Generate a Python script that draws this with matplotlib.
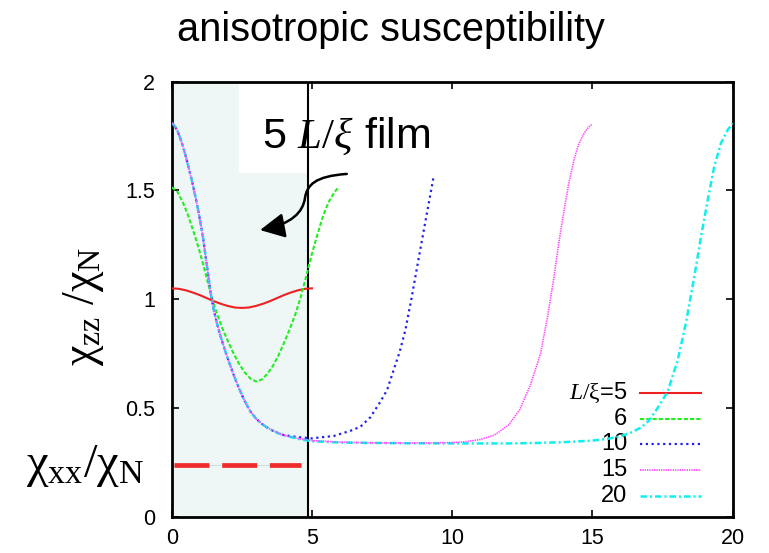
import matplotlib
matplotlib.use("Agg")
import matplotlib.pyplot as plt
from matplotlib.patches import Rectangle, FancyArrowPatch
from matplotlib.path import Path

plt.rcParams['font.family'] = ['Liberation Sans', 'DejaVu Sans']
plt.rcParams['mathtext.fontset'] = 'custom'
plt.rcParams['mathtext.rm'] = 'Liberation Serif'
plt.rcParams['mathtext.it'] = 'Liberation Serif:italic'
plt.rcParams['mathtext.bf'] = 'Liberation Serif:bold'

# chi_zz / chi_N across the film, one curve per thickness L/xi
# common decay from the surface (x = 0), shared by the thick films
surf_x = [0.0, 0.1, 0.2, 0.3, 0.4, 0.5, 0.6, 0.7, 0.8, 0.9, 1.0, 1.1, 1.2, 1.3,
          1.4, 1.5, 1.6, 1.7, 1.8, 1.9, 2.0, 2.2, 2.4, 2.6, 2.8, 3.0, 3.2, 3.4,
          3.6, 3.8, 4.0]
surf_y = [1.810, 1.798, 1.775, 1.742, 1.703, 1.657, 1.607, 1.555, 1.498, 1.437,
          1.370, 1.297, 1.205, 1.112, 1.020, 0.950, 0.895, 0.848, 0.805, 0.765,
          0.727, 0.655, 0.590, 0.532, 0.485, 0.452, 0.428, 0.410, 0.396, 0.384,
          0.375]

x5 = [0.0, 0.25, 0.5, 0.75, 1.0, 1.25, 1.5, 1.75, 2.0, 2.25, 2.5, 2.75, 3.0,
      3.25, 3.5, 3.75, 4.0, 4.25, 4.5, 4.75, 5.0]
y5 = [1.050, 1.048, 1.041, 1.031, 1.019, 1.005, 0.991, 0.979, 0.969, 0.962,
      0.960, 0.962, 0.969, 0.979, 0.991, 1.005, 1.019, 1.031, 1.041, 1.048, 1.050]

x6 = [0.0, 0.2, 0.4, 0.6, 0.8, 1.0, 1.2, 1.4, 1.6, 1.8, 2.0, 2.2, 2.4, 2.6,
      2.8, 3.0, 3.2, 3.4, 3.6, 3.8, 4.0, 4.2, 4.4, 4.6, 4.8, 5.0, 5.2, 5.4,
      5.6, 5.8, 5.92]
y6 = [1.515, 1.495, 1.445, 1.380, 1.302, 1.218, 1.122, 1.020, 0.938, 0.868,
      0.808, 0.752, 0.703, 0.664, 0.636, 0.622, 0.630, 0.655, 0.692, 0.740,
      0.798, 0.860, 0.928, 1.010, 1.108, 1.210, 1.300, 1.385, 1.448, 1.492, 1.510]

x10 = surf_x + [4.5, 5.0, 5.3, 5.77, 6.37, 6.73, 7.08, 7.44, 7.68, 7.91, 8.12,
                8.33, 8.55, 8.75, 9.0, 9.34]
y10 = surf_y + [0.366, 0.360, 0.365, 0.371, 0.395, 0.414, 0.457, 0.529, 0.583,
                0.674, 0.755, 0.858, 1.005, 1.149, 1.326, 1.566]

x15 = surf_x + [4.5, 5.0, 6.0, 7.0, 8.0, 9.0, 10.0, 10.5, 11.0, 11.5, 12.0,
                12.4, 12.8, 13.15, 13.4, 13.63, 13.8, 13.99, 14.15, 14.34, 14.5,
                14.7, 14.85, 15.0]
y15 = surf_y + [0.360, 0.350, 0.343, 0.340, 0.339, 0.339, 0.341, 0.345, 0.355,
                0.375, 0.420, 0.490, 0.610, 0.751, 0.920, 1.103, 1.260, 1.410,
                1.530, 1.640, 1.710, 1.763, 1.790, 1.806]

x20 = surf_x + [4.5, 5.0, 6.0, 8.0, 10.0, 12.0, 13.0, 14.0, 15.0, 15.54, 16.0,
                16.4, 16.73, 17.0, 17.3, 17.68, 18.04, 18.33, 18.63, 18.87,
                19.11, 19.34, 19.58, 19.82, 20.0]
y20 = surf_y + [0.358, 0.347, 0.341, 0.338, 0.337, 0.337, 0.339, 0.343, 0.350,
                0.358, 0.370, 0.388, 0.410, 0.440, 0.495, 0.575, 0.720, 0.889,
                1.103, 1.287, 1.456, 1.609, 1.717, 1.778, 1.809]

# in-plane susceptibility chi_xx / chi_N of the 5 L/xi film
xx_x = [0.08, 4.6]
xx_y = [0.238, 0.238]

film_edge = 4.86
labels = ['$\\mathit{L}/\\mathrm{ξ}$=5', '6', '10', '15', '20']

fig = plt.figure(figsize=(7.69, 5.53), dpi=100)
ax = fig.add_axes([0.2233, 0.0656, 0.7295, 0.7866])

ax.axvspan(0, film_edge, color='#eef7f6', zorder=0)
ax.axvline(film_edge, color='black', lw=1.5, zorder=3)

ax.plot(xx_x, xx_y, color='#c8e2e4', lw=0.8, zorder=2)
ax.plot(xx_x, xx_y, color='#ee2a2a', lw=3.4, dashes=(7.4, 2.7),
        solid_capstyle='butt', dash_capstyle='butt', zorder=2)

styles = [
    dict(color='#ee2020', lw=1.5, ls='-'),
    dict(color='#22ee22', lw=1.5, dashes=(2.0, 1.0)),
    dict(color='#2222ee', lw=1.6, dashes=(1.0, 1.6)),
    dict(color='#ff44ff', lw=1.2, dashes=(0.8, 0.6)),
    dict(color='#11eeee', lw=1.8, dashes=(2.6, 1.2, 0.8, 1.2)),
]
series = [(x5, y5), (x6, y6), (x10, y10), (x15, y15), (x20, y20)]
order = [1, 2, 3, 5, 4]
for (xs, ys), st, z in zip(series, styles, order):
    ax.plot(xs, ys, zorder=4 + z * 0.1, **st)

# legend drawn gnuplot style: label right-aligned, sample to its right
rows = [0.2844, 0.2246, 0.1671, 0.1074, 0.0476]
for lab, st, yr in zip(labels, styles, rows):
    ax.text(0.8116, yr, lab, transform=ax.transAxes, ha='right', va='center',
            fontsize=17)
    ax.plot([0.834, 0.944], [yr, yr], transform=ax.transAxes, **st)

# annotation box with curved arrow
ax.add_patch(Rectangle((2.4, 1.58), 5.6, 0.42, facecolor='white',
                       edgecolor='none', zorder=1))
ax.text(6.2, 1.75, '5 $L/\\xi$ film', ha='center', va='center', fontsize=31,
        zorder=6)
verts = [(6.24, 1.576), (5.11, 1.566), (4.82, 1.525), (4.75, 1.465),
         (4.68, 1.401), (4.29, 1.346), (3.15, 1.318)]
codes = [Path.MOVETO, Path.CURVE4, Path.CURVE4, Path.CURVE4,
         Path.CURVE4, Path.CURVE4, Path.CURVE4]
arrow = FancyArrowPatch(path=Path(verts, codes),
                        arrowstyle='-|>,head_length=0.75,head_width=0.38',
                        mutation_scale=20, lw=1.8, color='black', zorder=6)
ax.add_patch(arrow)

ax.set_xlim(0, 20)
ax.set_ylim(0, 2)
ax.set_xticks([0, 5, 10, 15, 20])
ax.set_yticks([0, 0.5, 1, 1.5, 2])
ax.set_yticklabels(['0', '0.5', '1', '1.5', '2'])
ax.tick_params(direction='in', top=True, right=True, length=5, width=1.2,
               labelsize=15.5)
ax.tick_params(axis='x', pad=8)
ax.tick_params(axis='y', pad=12)
for sp in ax.spines.values():
    sp.set_linewidth(2.0)

fig.text(0.108, 0.446, '$\\mathrm{χ}_{\\mathrm{zz}}\\ /\\mathrm{χ}_{\\mathrm{N}}$',
         rotation=90, ha='center', va='center', fontsize=33)
fig.text(0.111, 0.158, '$\\mathrm{χ}_{\\mathrm{xx}}/\\mathrm{χ}_{\\mathrm{N}}$',
         ha='center', va='center', fontsize=35)
fig.text(0.508, 0.946, 'anisotropic susceptibility', ha='center', va='center',
         fontsize=28.6)

fig.savefig('out.png', dpi=100)
